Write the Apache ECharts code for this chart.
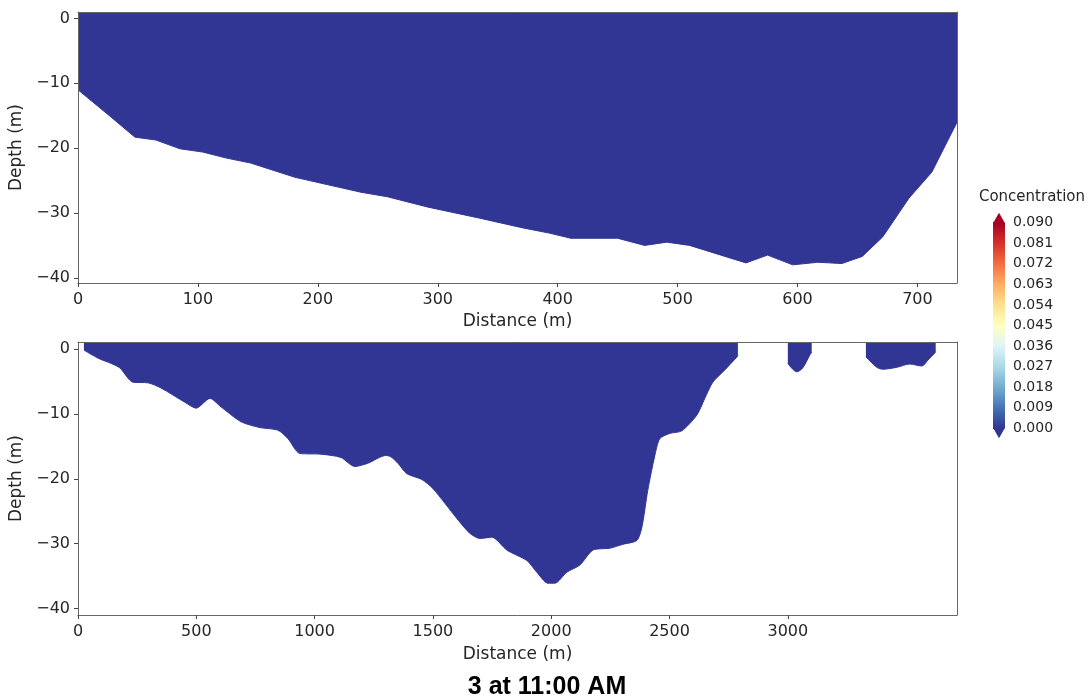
<!DOCTYPE html>
<html><head><meta charset="utf-8">
<script src="https://cdn.jsdelivr.net/npm/echarts@6/dist/echarts.min.js"></script>
<style>html,body{margin:0;padding:0;background:#fff}#c{width:1091px;height:698px}</style>
</head><body><div id="c"></div>
<script>
// ---- data ----
const topDistance = [0, 27.5, 47.5, 65, 85, 104, 123, 144, 181, 236, 258, 292, 335, 371, 393, 411, 450, 472.5, 491, 510, 557, 575, 596, 617, 637, 654, 671, 693, 712, 733];
const topBedDepth = [-11.0, -15.2, -18.3, -18.75, -20.1, -20.6, -21.5, -22.3, -24.5, -26.8, -27.5, -29.1, -30.8, -32.3, -33.1, -33.9, -33.9, -35.0, -34.5, -35.0, -37.7, -36.5, -38.0, -37.6, -37.8, -36.7, -33.7, -27.7, -23.7, -16.0];

const mainDistance = [25, 85, 140, 177, 232, 296, 351, 452, 499, 558, 604, 689, 769, 845, 887, 938, 1027, 1111, 1170, 1225, 1301, 1322, 1352, 1390, 1453, 1500, 1601, 1656, 1699, 1749, 1813, 1897, 1939, 1986, 2015, 2066, 2121, 2176, 2248, 2303, 2362, 2383, 2408, 2438, 2459, 2501, 2552, 2615, 2649, 2683, 2734, 2785, 2789];
const mainBedDepth = [-0.15, -1.4, -2.2, -2.9, -5.1, -5.2, -6.0, -8.2, -9.1, -7.6, -8.9, -11.2, -12.1, -12.5, -13.8, -16.1, -16.2, -16.7, -18.1, -17.6, -16.4, -16.6, -17.6, -19.2, -20.1, -21.5, -26.1, -28.4, -29.2, -29.0, -31.0, -32.6, -34.4, -36.1, -36.1, -34.4, -33.3, -31.0, -30.7, -30.1, -29.5, -27.5, -21.8, -16.4, -13.8, -13.0, -12.6, -10.2, -7.6, -5.1, -3.2, -1.2, -1.0];

const pool2Distance = [3000, 3038, 3063, 3093, 3101];
const pool2BedDepth = [-2.2, -3.5, -2.9, -0.9, -0.5];

const pool3Distance = [3330, 3376, 3401, 3461, 3515, 3566, 3592, 3621, 3625];
const pool3BedDepth = [-1.2, -2.8, -3.1, -2.8, -2.3, -2.6, -1.7, -0.6, -0.4];

const topXTicks = [0, 100, 200, 300, 400, 500, 600, 700];
const bottomXTicks = [0, 500, 1000, 1500, 2000, 2500, 3000];
const depthTicks = [-40, -30, -20, -10, 0];
const cbTicks = [0.000, 0.009, 0.018, 0.027, 0.036, 0.045, 0.054, 0.063, 0.072, 0.081, 0.090];
const cmapColors = ['#313695', '#4575b4', '#74add1', '#abd9e9', '#e0f3f8', '#ffffbf', '#fee090', '#fdae61', '#f46d43', '#d73027', '#a50026'];

// ---- chart ----
const zip = (a, b) => a.map((v, i) => [v, b[i]]);
const water = cmapColors[0];
const F = 'DejaVu Sans';
const lineC = '#666';
const txtC = '#262626';
const minus = v => String(v).replace('-', '\u2212');

function xMain(grid, max, ticks) {
  return {
    gridIndex: grid, type: 'value', min: 0, max: max, position: 'bottom', z: 5,
    axisLine: { show: true, onZero: false, lineStyle: { color: lineC, width: 1 } },
    axisTick: { show: true, length: 4, customValues: ticks, lineStyle: { color: '#444' } },
    axisLabel: { show: true, customValues: ticks, margin: 9, color: txtC, fontFamily: F, fontSize: 16, formatter: v => String(v) },
    splitLine: { show: false },
    name: 'Distance (m)', nameLocation: 'middle', nameGap: grid === 0 ? 30 : 31,
    nameTextStyle: { color: txtC, fontFamily: F, fontSize: 17 }
  };
}
function xTop(grid, max) {
  return {
    gridIndex: grid, type: 'value', min: 0, max: max, position: 'top', z: 5,
    axisLine: { show: true, onZero: false, lineStyle: { color: lineC, width: 1 } },
    axisTick: { show: false }, axisLabel: { show: false }, splitLine: { show: false }
  };
}
function yMain(grid, min, max) {
  return {
    gridIndex: grid, type: 'value', min: min, max: max, position: 'left', z: 5,
    axisLine: { show: true, onZero: false, lineStyle: { color: lineC, width: 1 } },
    axisTick: { show: true, length: 4, customValues: depthTicks, lineStyle: { color: '#444' } },
    axisLabel: { show: true, customValues: depthTicks, margin: 8, color: txtC, fontFamily: F, fontSize: 16, formatter: minus },
    splitLine: { show: false },
    name: 'Depth (m)', nameLocation: 'middle', nameGap: 50,
    nameTextStyle: { color: txtC, fontFamily: F, fontSize: 17 }
  };
}
function yRight(grid, min, max) {
  return {
    gridIndex: grid, type: 'value', min: min, max: max, position: 'right', z: 5,
    axisLine: { show: true, onZero: false, lineStyle: { color: lineC, width: 1 } },
    axisTick: { show: false }, axisLabel: { show: false }, splitLine: { show: false }
  };
}
function bed(xi, yi, xs, ys, smooth) {
  return {
    type: 'line', xAxisIndex: xi, yAxisIndex: yi, data: zip(xs, ys),
    showSymbol: false, symbol: 'none', smooth: smooth, silent: true,
    lineStyle: { color: water, width: 1 },
    areaStyle: { color: water, opacity: 1, origin: 'end' }, z: 2
  };
}

const chart = echarts.init(document.getElementById('c'), null, { renderer: 'canvas' });
chart.setOption({
  animation: false,
  backgroundColor: '#fff',
  grid: [
    { left: 78, top: 12, width: 879, height: 271 },
    { left: 78, top: 342, width: 879, height: 273 },
    { left: 993, top: 222.7, width: 12, height: 205.6 }
  ],
  xAxis: [
    xMain(0, 733, topXTicks), xTop(0, 733),
    xMain(1, 3715, bottomXTicks), xTop(1, 3715),
    { gridIndex: 2, type: 'value', min: 0, max: 1, show: false }
  ],
  yAxis: [
    yMain(0, -40.8, 1), yRight(0, -40.8, 1),
    yMain(1, -41, 1.1), yRight(1, -41, 1.1),
    {
      gridIndex: 2, type: 'value', min: cbTicks[0], max: cbTicks[cbTicks.length - 1], position: 'right',
      axisLine: { show: false },
      axisTick: { show: true, length: 4, customValues: cbTicks, lineStyle: { color: '#444' } },
      axisLabel: { show: true, customValues: cbTicks, margin: 8, color: txtC, fontFamily: F, fontSize: 14, formatter: v => v.toFixed(3) },
      splitLine: { show: false }
    }
  ],
  series: [
    bed(0, 0, topDistance, topBedDepth, false),
    bed(2, 2, mainDistance, mainBedDepth, 0.25),
    bed(2, 2, pool2Distance, pool2BedDepth, 0.3),
    bed(2, 2, pool3Distance, pool3BedDepth, 0.3),
    {
      type: 'custom', xAxisIndex: 4, yAxisIndex: 4, silent: true, clip: false,
      data: [[0, cbTicks[0], cbTicks[cbTicks.length - 1]]],
      encode: { x: 0, y: [1, 2] },
      renderItem: function (params, api) {
        const p0 = api.coord([0, api.value(1)]);
        const p1 = api.coord([1, api.value(2)]);
        const xl = p0[0], xr = p1[0], yb = p0[1], yt = p1[1], xm = (xl + xr) / 2;
        const stops = cmapColors.map((c, i) => ({ offset: i / (cmapColors.length - 1), color: c }));
        return {
          type: 'group',
          children: [
            { type: 'rect', shape: { x: xl, y: yt, width: xr - xl, height: yb - yt },
              style: { fill: new echarts.graphic.LinearGradient(0, 1, 0, 0, stops) } },
            { type: 'polygon', shape: { points: [[xl, yt + 0.5], [xr, yt + 0.5], [xm, yt - 10]] },
              style: { fill: cmapColors[cmapColors.length - 1] } },
            { type: 'polygon', shape: { points: [[xl, yb - 0.5], [xr, yb - 0.5], [xm, yb + 10]] },
              style: { fill: cmapColors[0] } }
          ]
        };
      }
    }
  ],
  graphic: [
    { type: 'text', x: 1032, y: 197, style: { text: 'Concentration', fill: txtC, font: '15px "DejaVu Sans"', align: 'center', verticalAlign: 'middle' } },
    { type: 'text', x: 547, y: 687, style: { text: '3 at 11:00 AM', fill: '#000', font: 'bold 25px "Liberation Sans"', align: 'center', verticalAlign: 'middle' } }
  ]
});
</script>
</body></html>
